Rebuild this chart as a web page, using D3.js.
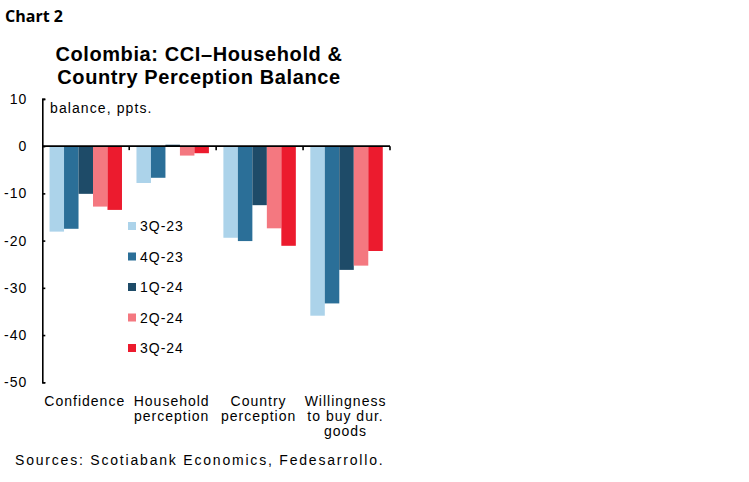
<!DOCTYPE html>
<html>
<head>
<meta charset="utf-8">
<script src="https://cdn.jsdelivr.net/npm/d3@7"></script>
<style>
  html, body { margin: 0; padding: 0; background: #fff; }
  svg { display: block; }
  text { font-family: "Liberation Sans", Arial, sans-serif; fill: #000; }
</style>
</head>
<body>
<div id="chart"></div>
<script>
// --- DONNÉES ---
const categories = ["Confidence", "Household perception", "Country perception", "Willingness to buy dur. goods"];
const categoryLines = [["Confidence"], ["Household", "perception"], ["Country", "perception"], ["Willingness", "to buy dur.", "goods"]];
const seriesNames = ["3Q-23", "4Q-23", "1Q-24", "2Q-24", "3Q-24"];
const s3Q23 = [-18.1, -7.8, -19.4, -35.9];
const s4Q23 = [-17.5, -6.7, -20.1, -33.3];
const s1Q24 = [-10.1, 0.3, -12.5, -26.2];
const s2Q24 = [-12.8, -2.0, -17.4, -25.3];
const s3Q24 = [-13.5, -1.5, -21.1, -22.2];
const yTicks = [10, 0, -10, -20, -30, -40, -50];

const seriesValues = [s3Q23, s4Q23, s1Q24, s2Q24, s3Q24];
const colors = ["#acd3ea", "#2b6f98", "#1e4b68", "#f47880", "#ec1b2e"];

const width = 749, height = 482;
const svg = d3.select("#chart").append("svg")
    .attr("width", width).attr("height", height);

// En-tête
svg.append("text").attr("x", 5).attr("y", 21.5)
    .style("font-family", "'Open Sans', 'Noto Sans', sans-serif")
    .style("font-weight", 700).style("font-size", "16px")
    .text("Chart 2");

const title = svg.append("text").attr("text-anchor", "middle")
    .style("font-weight", 700).style("font-size", "20px").style("letter-spacing", "0.6px");
title.append("tspan").attr("x", 199).attr("y", 61).text("Colombia: CCI\u2013Household &");
title.append("tspan").attr("x", 199).attr("y", 83.5).text("Country Perception Balance");

// --- ÉCHELLES ---
const x = d3.scaleBand().domain(categories).range([42.3, 390]).padding(0);
const xs = d3.scaleBand().domain(seriesNames).range([0, x.bandwidth()])
    .paddingInner(0).paddingOuter(0.5);
const y = d3.scaleLinear().domain([-50, 10]).range([382.3, 98.9]);

// Barres
const flat = [];
seriesNames.forEach((s, i) => {
    categories.forEach((c, j) => flat.push({ s, c, v: seriesValues[i][j], color: colors[i] }));
});
svg.append("g").selectAll("rect").data(flat).join("rect")
    .attr("x", d => x(d.c) + xs(d.s))
    .attr("width", xs.bandwidth())
    .attr("y", d => Math.min(y(0), y(d.v)))
    .attr("height", d => Math.abs(y(d.v) - y(0)))
    .attr("fill", d => d.color);

// Axe Y (ticks vers l'intérieur)
const yAxis = svg.append("g").attr("transform", `translate(${x.range()[0]},0)`)
    .call(d3.axisLeft(y).tickValues(yTicks).tickFormat(d => String(d))
        .tickSizeInner(-3).tickSizeOuter(-3).tickPadding(15));
yAxis.selectAll("path, line").attr("stroke", "#000").attr("stroke-width", 1.6);
yAxis.selectAll("text").style("font-size", "14px").style("letter-spacing", "1px")
    .style("font-family", "'Liberation Sans', Arial, sans-serif").attr("fill", "#000");

// Axe X à zéro
const xAxis = svg.append("g");
xAxis.append("line")
    .attr("x1", x.range()[0]).attr("x2", x.range()[1])
    .attr("y1", y(0)).attr("y2", y(0))
    .attr("stroke", "#000").attr("stroke-width", 1.6);
xAxis.selectAll(".sep").data(categories).join("line").attr("class", "sep")
    .attr("x1", d => x(d) + x.bandwidth()).attr("x2", d => x(d) + x.bandwidth())
    .attr("y1", y(0)).attr("y2", y(0) + 4)
    .attr("stroke", "#000").attr("stroke-width", 1.6);

// Libellés catégories
const catLabels = svg.append("g").selectAll("text").data(categories).join("text")
    .attr("text-anchor", "middle")
    .style("font-size", "14px").style("letter-spacing", "1px");
catLabels.each(function (c, j) {
    d3.select(this).selectAll("tspan").data(categoryLines[j]).join("tspan")
        .attr("x", x(c) + x.bandwidth() / 2 - 1)
        .attr("y", (d, k) => 406 + k * 15)
        .text(d => d);
});

// Unité
svg.append("text").attr("x", 50).attr("y", 113)
    .style("font-size", "14px").style("letter-spacing", "1.1px")
    .text("balance, ppts.");

// Légende
const legend = svg.append("g").selectAll("g").data(seriesNames).join("g")
    .attr("transform", (d, i) => `translate(128,${226 + i * 30.5})`);
legend.append("rect").attr("x", 0).attr("y", -4).attr("width", 8).attr("height", 8)
    .attr("fill", (d, i) => colors[i]);
legend.append("text").attr("x", 12).attr("y", 5)
    .style("font-size", "14px").style("letter-spacing", "1px")
    .text(d => d);

// Source
svg.append("text").attr("x", 15).attr("y", 465)
    .style("font-size", "14px").style("letter-spacing", "1.8px")
    .text("Sources: Scotiabank Economics, Fedesarrollo.");
</script>
</body>
</html>
